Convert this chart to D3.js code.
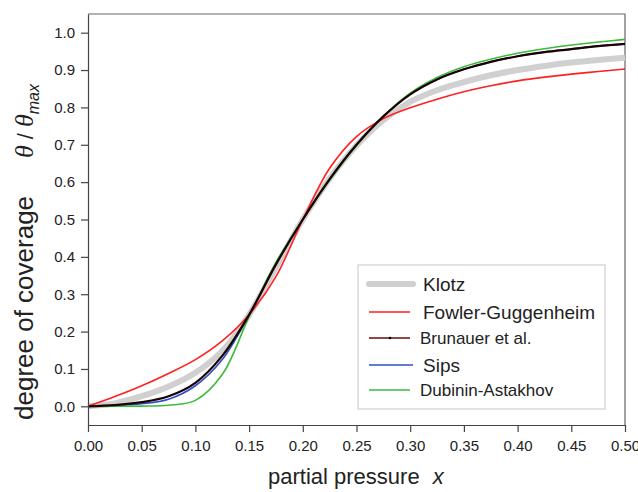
<!DOCTYPE html>
<html>
<head>
<meta charset="utf-8">
<script src="https://cdn.jsdelivr.net/npm/d3@7"></script>
<style>
  body { margin: 0; background: #fff; }
  svg text { font-family: "Liberation Sans", Arial, sans-serif; fill: #222; }
</style>
</head>
<body>
<svg id="chart"></svg>
<script>
// partial pressure grid (shared by all curves)
const pressure = [0, 0.025, 0.05, 0.075, 0.1, 0.125, 0.15, 0.175, 0.2, 0.225, 0.25, 0.275, 0.3, 0.325, 0.35, 0.375, 0.4, 0.425, 0.45, 0.475, 0.5];
// degree of coverage
const klotz    = [0, 0.008, 0.027, 0.053, 0.09, 0.148, 0.245, 0.372, 0.5, 0.61, 0.698, 0.766, 0.815, 0.846, 0.868, 0.886, 0.9, 0.911, 0.92, 0.927, 0.933];
const fowler   = [0, 0.026, 0.055, 0.088, 0.125, 0.175, 0.245, 0.347, 0.5, 0.637, 0.722, 0.77, 0.799, 0.822, 0.842, 0.858, 0.871, 0.881, 0.889, 0.896, 0.903];
const brunauer = [0, 0.003, 0.011, 0.027, 0.063, 0.135, 0.245, 0.38, 0.5, 0.608, 0.7, 0.776, 0.835, 0.875, 0.902, 0.922, 0.937, 0.948, 0.956, 0.964, 0.97];
const sips     = [0, 0.002, 0.007, 0.019, 0.055, 0.125, 0.245, 0.38, 0.5, 0.608, 0.7, 0.776, 0.835, 0.875, 0.902, 0.922, 0.937, 0.948, 0.956, 0.964, 0.97];
const dubinin  = [0, 0, 0.0005, 0.003, 0.016, 0.085, 0.24, 0.385, 0.5, 0.605, 0.698, 0.776, 0.838, 0.88, 0.909, 0.929, 0.945, 0.957, 0.967, 0.975, 0.982];

const xTicks = [0, 0.05, 0.1, 0.15, 0.2, 0.25, 0.3, 0.35, 0.4, 0.45, 0.5];
const yTicks = [0, 0.1, 0.2, 0.3, 0.4, 0.5, 0.6, 0.7, 0.8, 0.9, 1.0];

// drawing order: grey Klotz underneath, Brunauer on top
const series = [
    { name: "Klotz", values: klotz, color: "#d0d0d0", width: 6 },
    { name: "Sips", values: sips, color: "#2b4fc4", width: 1.6 },
    { name: "Dubinin-Astakhov", values: dubinin, color: "#3cba3c", width: 1.6 },
    { name: "Fowler-Guggenheim", values: fowler, color: "#ff2020", width: 1.6 },
    { name: "Brunauer et al.", values: brunauer, color: "#1c0202", width: 2.2 }
];
const legendOrder = ["Klotz", "Fowler-Guggenheim", "Brunauer et al.", "Sips", "Dubinin-Astakhov"];

const width = 638;
const height = 492;
const plotLeft = 88, plotRight = 625, plotTop = 14, plotBottom = 425;

const svg = d3.select("#chart").attr("width", width).attr("height", height);

const xScale = d3.scaleLinear().domain([0, 0.5]).range([plotLeft, plotRight]);
const yScale = d3.scaleLinear().domain([-0.05, 1.05]).range([plotBottom, plotTop]);

// frame top and right
svg.append("path")
    .attr("d", `M${plotLeft},${plotTop}H${plotRight}V${plotBottom}`)
    .attr("fill", "none")
    .attr("stroke", "#666")
    .attr("stroke-width", 1.2);

// curves
const line = d3.line()
    .x((d, i) => xScale(pressure[i]))
    .y(d => yScale(d))
    .curve(d3.curveCatmullRom.alpha(0.5));

svg.selectAll("path.curve")
    .data(series)
    .enter()
    .append("path")
    .attr("class", "curve")
    .attr("d", d => line(d.values))
    .attr("fill", "none")
    .attr("stroke", d => d.color)
    .attr("stroke-width", d => d.width)
    .attr("stroke-linecap", "butt");

// axes
const xAxis = svg.append("g")
    .attr("transform", "translate(0," + plotBottom + ")")
    .call(d3.axisBottom(xScale).tickValues(xTicks).tickFormat(d3.format(".2f")).tickSize(7).tickSizeOuter(0).tickPadding(8));
const yAxis = svg.append("g")
    .attr("transform", "translate(" + plotLeft + ",0)")
    .call(d3.axisLeft(yScale).tickValues(yTicks).tickFormat(d3.format(".1f")).tickSize(7).tickSizeOuter(0).tickPadding(6));
[xAxis, yAxis].forEach(g => {
    g.select(".domain").attr("stroke", "#444").attr("stroke-width", 1.2);
    g.selectAll(".tick line").attr("stroke", "#444").attr("stroke-width", 1.2);
    g.selectAll(".tick text").style("font-size", "15px").attr("fill", "#222")
        .style("font-family", "'Liberation Sans', Arial, sans-serif");
});

// axis titles
const xLabel = svg.append("text")
    .attr("x", 268)
    .attr("y", 484)
    .style("font-size", "22px");
xLabel.append("tspan").text("partial pressure");
xLabel.append("tspan").attr("dx", 13).style("font-style", "italic").text("x");

const yLabel = svg.append("text")
    .attr("transform", "rotate(-90)")
    .attr("x", -420)
    .attr("y", 33)
    .style("font-size", "26px");
yLabel.append("tspan").text("degree of coverage");
yLabel.append("tspan").attr("dx", 38)
    .style("font-family", "'Liberation Serif', serif").style("font-style", "italic").text("θ");
yLabel.append("tspan").attr("dx", 6).style("font-size", "22px").text("/");
yLabel.append("tspan").attr("dx", 6)
    .style("font-family", "'Liberation Serif', serif").style("font-style", "italic").text("θ");
yLabel.append("tspan").attr("dy", 6).style("font-size", "16px").style("font-style", "italic").text("max");

// legend
const legend = svg.append("g").attr("transform", "translate(358,265)");
legend.append("rect")
    .attr("x", 0).attr("y", 0)
    .attr("width", 247).attr("height", 144)
    .attr("fill", "#fff")
    .attr("stroke", "#cfcfcf")
    .attr("stroke-width", 1.2);

const legendItems = legend.selectAll("g.item")
    .data(legendOrder.map(n => series.find(s => s.name === n)))
    .enter()
    .append("g")
    .attr("class", "item")
    .attr("transform", (d, i) => "translate(0," + [19, 47, 73, 100, 125][i] + ")");

legendItems.append("line")
    .attr("x1", 11).attr("x2", d => d.name === "Klotz" ? 55 : (d.name === "Sips" ? 55 : 52))
    .attr("y1", 0).attr("y2", 0)
    .attr("stroke", d => d.name === "Brunauer et al." ? "#6a0a0a" : d.color)
    .attr("stroke-width", d => d.name === "Klotz" ? 6 : 1.6)
    .attr("stroke-linecap", d => d.name === "Klotz" ? "round" : "butt");

legendItems.filter(d => d.name === "Brunauer et al.")
    .append("circle")
    .attr("cx", 32).attr("cy", 0).attr("r", 1.3)
    .attr("fill", "#000");

legendItems.append("text")
    .attr("x", d => (d.name === "Brunauer et al." || d.name === "Dubinin-Astakhov") ? 62 : 65)
    .attr("y", 0)
    .attr("dy", "0.36em")
    .style("font-size", d => (d.name === "Brunauer et al." || d.name === "Dubinin-Astakhov") ? "17px" : "19px")
    .text(d => d.name);
</script>
</body>
</html>
